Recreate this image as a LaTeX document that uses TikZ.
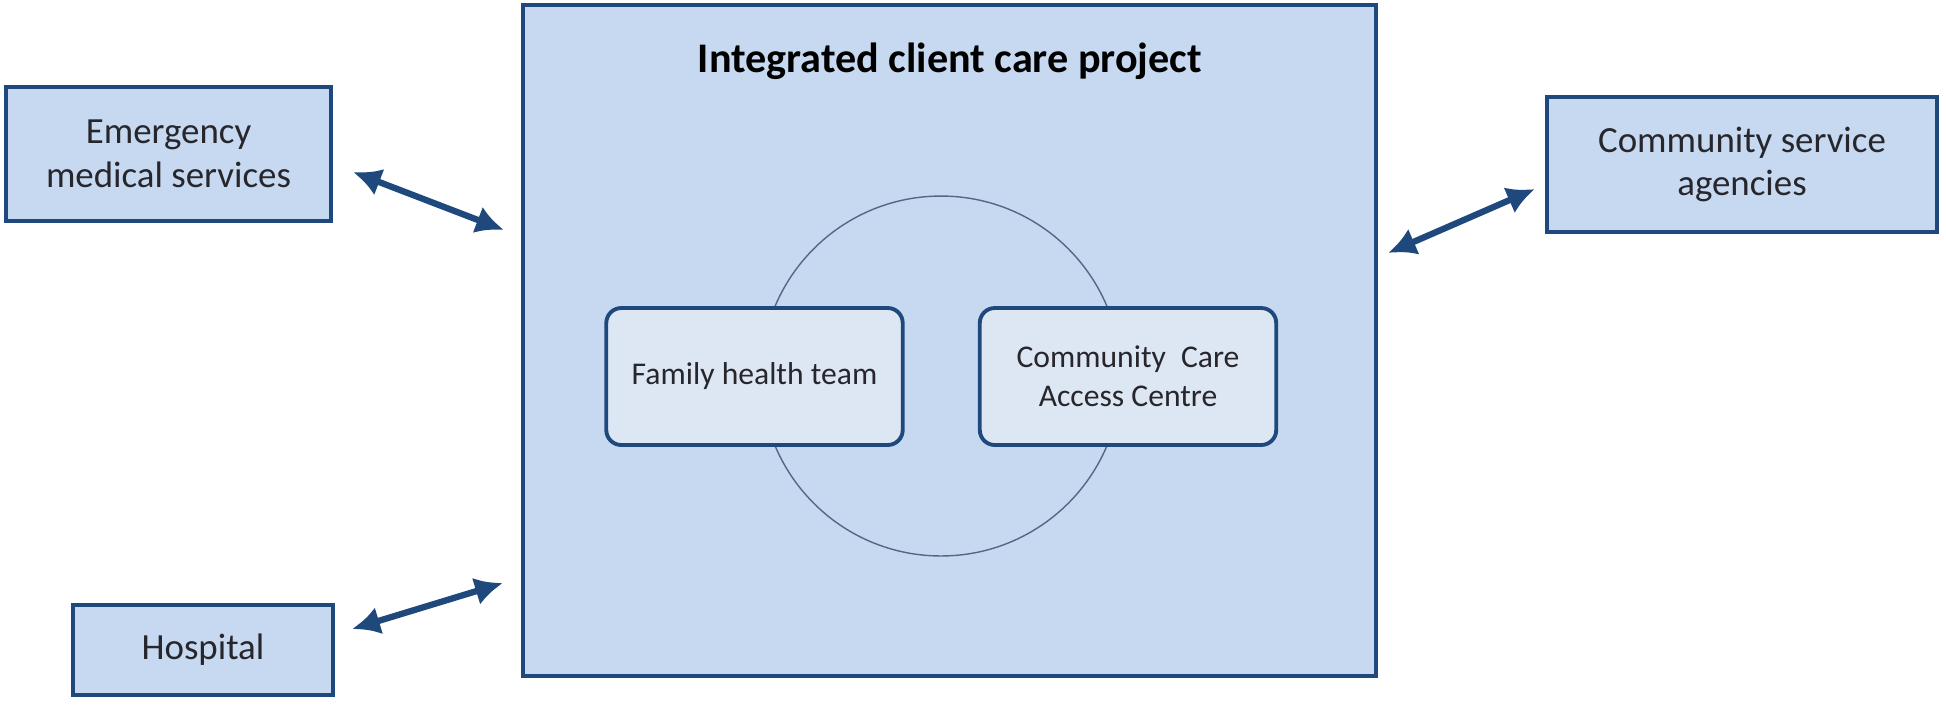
\documentclass[tikz,border=0pt]{standalone}
\usepackage{fontspec}
\setmainfont{Carlito}
\usetikzlibrary{arrows.meta}

\definecolor{boxfill}{RGB}{198,217,240}
\definecolor{innerfill}{RGB}{221,231,243}
\definecolor{boxline}{RGB}{31,73,125}
\definecolor{ringline}{RGB}{84,104,134}
\definecolor{txt}{RGB}{38,38,44}

\tikzset{
  partner/.style={draw=boxline, line width=2.2pt, fill=boxfill, text=txt,
    align=center, inner sep=0pt, font=\fontsize{21}{25}\selectfont},
  member/.style={draw=boxline, line width=2.2pt, fill=innerfill, text=txt,
    rounded corners=0.3cm, align=center, inner sep=0pt,
    minimum width=5.93cm, minimum height=2.74cm, font=\fontsize{18}{22}\selectfont},
  link/.style={draw=boxline, line width=3.6pt, {Latex[length=0.56cm,width=0.56cm]}-{Latex[length=0.56cm,width=0.56cm]}},
}

\begin{document}
\begin{tikzpicture}[x=0.02cm, y=-0.02cm]
  \useasboundingbox (0,0) rectangle (1946,704);

  \node[draw=boxline, line width=2pt, fill=boxfill, minimum width=17.06cm,
        minimum height=13.42cm, inner sep=0pt] (icc) at (949.5,340.5) {};
  \node[font=\bfseries\fontsize{24}{28}\selectfont] (title) at (950,61)
        {Integrated client care project};

  \draw[ringline, line width=0.8pt] (941,376) circle [radius=3.6cm];

  \node[member] (fht)  at (754.5,376.5) {Family health team};
  \node[member] (ccac) at (1128,376.5)  {Community\hspace{0.25em} Care\\Access Centre};

  \node[partner, minimum width=6.5cm, minimum height=2.68cm] (ems) at (168.5,154)
        {Emergency\\medical services};
  \node[partner, minimum width=5.2cm, minimum height=1.8cm] (hosp) at (203,650)
        {Hospital};
  \node[partner, minimum width=7.8cm, minimum height=2.7cm] (csa) at (1742,164.5)
        {Community service\\agencies};

  \coordinate (emsA)  at (353,172);
  \coordinate (emsB)  at (504,230);
  \coordinate (hospA) at (352,629);
  \coordinate (hospB) at (503,583);
  \coordinate (csaA)  at (1388,253);
  \coordinate (csaB)  at (1535,189);

  \draw[link] (emsA)  -- (emsB);
  \draw[link] (hospA) -- (hospB);
  \draw[link] (csaA)  -- (csaB);
\end{tikzpicture}
\end{document}
